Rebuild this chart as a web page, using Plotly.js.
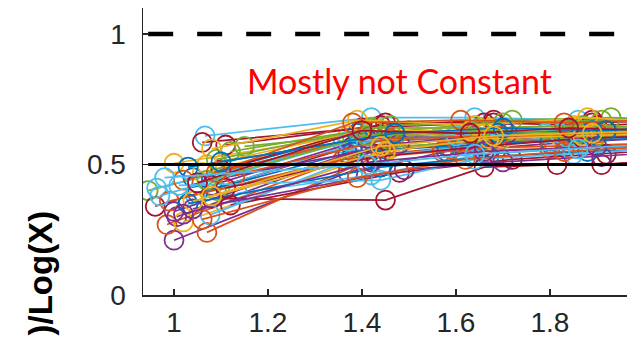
<!DOCTYPE html>
<html>
<head>
<meta charset="utf-8">
<script src="https://cdn.plot.ly/plotly-3.0.1.min.js"></script>
<style>html,body{margin:0;padding:0;background:#fff;}#chart{width:627px;height:348px;}</style>
</head>
<body>
<div id="chart"></div>
<script>
// MATLAB default colour order
const palette = ['#0072BD','#D95319','#EDB120','#7E2F8E','#77AC30','#4DBEEE','#A2142F'];

// one row per series: x values, y values, colour index
const seriesX = [
  [0.945,1.38,1.62,1.84,2.02],
  [1.00,1.37,1.58,1.80,2.00],
  [1.07,1.44,1.68,1.88,2.05],
  [1.066,1.42,1.64,1.86,2.03],
  [1.06,1.40,1.66,1.90,2.06],
  [1.00,1.37,1.60,1.82,2.01],
  [0.96,1.38,1.64,1.85,2.04],
  [0.985,1.36,1.59,1.81,2.00],
  [1.006,1.39,1.62,1.84,2.02],
  [1.02,1.46,1.70,1.91,2.07],
  [0.963,1.36,1.56,1.79,1.99],
  [1.045,1.40,1.65,1.87,2.04],
  [1.12,1.48,1.72,1.92,2.08],
  [1.135,1.42,1.66,1.86,2.03],
  [1.08,1.45,1.66,1.815,1.91,2.05],
  [1.11,1.44,1.68,1.89,2.05],
  [1.15,1.50,1.72,1.93,2.08],
  [1.077,1.38,1.62,1.84,2.02],
  [1.00,1.37,1.61,1.83,2.01],
  [1.04,1.39,1.63,1.85,2.03],
  [1.06,1.43,1.67,1.88,2.05],
  [1.08,1.41,1.64,1.86,2.04],
  [1.02,1.37,1.62,1.84,2.02],
  [1.09,1.47,1.69,1.90,2.06],
  [1.05,1.38,1.58,1.80,1.99],
  [1.10,1.45,1.68,1.89,2.05],
  [1.07,1.40,1.63,1.85,2.03],
  [1.12,1.46,1.70,1.91,2.07],
  [0.99,1.36,1.57,1.80,2.00],
  [1.03,1.44,1.67,1.88,2.04],
  [1.05,1.48,1.71,1.92,2.07],
  [0.97,1.37,1.60,1.82,2.01],
  [1.09,1.42,1.65,1.87,2.04],
  [1.13,1.46,1.69,1.90,2.06],
  [1.01,1.44,1.64,1.85,2.03],
  [1.04,1.49,1.70,1.91,2.07],
  [1.06,1.39,1.62,1.83,2.02],
  [1.11,1.43,1.66,1.87,2.04],
  [1.08,1.39,1.64,1.88,2.05],
  [1.03,1.47,1.69,1.89,2.06],
  [1.07,1.41,1.65,1.86,2.04],
  [1.04,1.45,1.67,1.87,2.05],
  [1.09,1.38,1.61,1.83,2.02],
  [1.02,1.42,1.66,1.90,2.06],
  [1.10,1.47,1.70,1.92,2.07],
  [1.05,1.40,1.63,1.84,2.03],
  [1.08,1.44,1.68,1.89,2.05],
  [0.98,1.41,1.64,1.86,2.04]
];
const seriesY = [
  [0.40,0.60,0.62,0.63,0.64],
  [0.21,0.47,0.55,0.58,0.60],
  [0.24,0.54,0.58,0.60,0.61],
  [0.61,0.68,0.68,0.67,0.68],
  [0.585,0.64,0.66,0.65,0.66],
  [0.505,0.61,0.62,0.61,0.63],
  [0.34,0.57,0.60,0.62,0.63],
  [0.27,0.52,0.56,0.57,0.58],
  [0.30,0.55,0.59,0.61,0.62],
  [0.28,0.56,0.60,0.62,0.63],
  [0.41,0.58,0.60,0.62,0.62],
  [0.383,0.59,0.62,0.63,0.64],
  [0.345,0.47,0.52,0.54,0.56],
  [0.39,0.46,0.54,0.56,0.58],
  [0.37,0.364,0.49,0.50,0.50,0.52],
  [0.575,0.65,0.67,0.66,0.67],
  [0.57,0.63,0.67,0.68,0.67],
  [0.307,0.52,0.57,0.60,0.61],
  [0.32,0.54,0.58,0.60,0.61],
  [0.45,0.62,0.63,0.64,0.64],
  [0.47,0.64,0.64,0.63,0.65],
  [0.42,0.60,0.61,0.62,0.63],
  [0.44,0.59,0.60,0.61,0.62],
  [0.40,0.57,0.59,0.61,0.62],
  [0.39,0.55,0.57,0.59,0.60],
  [0.48,0.66,0.66,0.67,0.66],
  [0.50,0.63,0.63,0.65,0.64],
  [0.55,0.65,0.66,0.67,0.66],
  [0.36,0.52,0.55,0.56,0.57],
  [0.35,0.49,0.53,0.55,0.56],
  [0.43,0.58,0.62,0.63,0.63],
  [0.38,0.59,0.61,0.62,0.63],
  [0.52,0.64,0.64,0.65,0.64],
  [0.46,0.60,0.61,0.62,0.62],
  [0.42,0.44,0.52,0.54,0.56],
  [0.33,0.48,0.51,0.53,0.55],
  [0.29,0.45,0.52,0.55,0.57],
  [0.41,0.53,0.57,0.60,0.61],
  [0.56,0.67,0.65,0.68,0.66],
  [0.49,0.62,0.62,0.63,0.64],
  [0.44,0.61,0.63,0.62,0.64],
  [0.36,0.55,0.60,0.61,0.62],
  [0.47,0.66,0.67,0.66,0.67],
  [0.31,0.51,0.55,0.57,0.58],
  [0.51,0.62,0.64,0.63,0.65],
  [0.43,0.63,0.62,0.64,0.63],
  [0.38,0.57,0.61,0.62,0.63],
  [0.45,0.50,0.54,0.56,0.58]
];
const seriesColor = [4,3,1,5,6,2,6,1,3,2,5,5,6,5,6,6,4,5,3,0,2,3,1,4,0,6,2,4,1,0,3,5,4,1,5,3,1,6,2,0,4,2,1,3,0,6,2,5];

// reference levels
const refX = [0.945, 2.1];
const levelConstant = 1;
const levelHalf = 0.5;

const xTicks = [1, 1.2, 1.4, 1.6, 1.8];
const xTickText = ['1', '1.2', '1.4', '1.6', '1.8'];
const yTicks = [0, 0.5, 1];
const yTickText = ['0', '0.5', '1'];

const traces = seriesX.map((xs, i) => ({
  x: xs, y: seriesY[i], type: 'scatter', mode: 'lines+markers',
  line: {color: palette[seriesColor[i]], width: 1.7},
  marker: {symbol: 'circle-open', size: 19, color: palette[seriesColor[i]], line: {width: 1.8}},
  hoverinfo: 'none', showlegend: false, cliponaxis: true
}));
traces.push({x: refX, y: [levelHalf, levelHalf], type: 'scatter', mode: 'lines',
  line: {color: '#000', width: 3}, showlegend: false, hoverinfo: 'none'});
traces.push({x: refX, y: [levelConstant, levelConstant], type: 'scatter', mode: 'lines',
  line: {color: '#000', width: 4.5, dash: '25px,24px'}, showlegend: false, hoverinfo: 'none'});

const axisFont = {family: 'Liberation Sans, Arial, sans-serif', size: 28, color: '#262626'};
const layout = {
  width: 627, height: 348,
  margin: {l: 143, r: 0, t: 8, b: 53, pad: 0},
  paper_bgcolor: '#fff', plot_bgcolor: '#fff',
  xaxis: {range: [0.934, 1.964], tickvals: xTicks, ticktext: xTickText, ticks: 'inside', ticklen: 6,
    tickwidth: 1.5, tickcolor: '#262626', showline: true, linecolor: '#262626', linewidth: 1.5,
    showgrid: false, zeroline: false, mirror: false, tickfont: axisFont, ticklabelstandoff: 2},
  yaxis: {range: [0, 1.1], tickvals: yTicks, ticktext: yTickText, ticks: 'inside', ticklen: 6,
    tickwidth: 1.5, tickcolor: '#262626', showline: true, linecolor: '#262626', linewidth: 1.5,
    showgrid: false, zeroline: false, mirror: false, tickfont: axisFont, ticklabelstandoff: 10},
  annotations: [
    {text: 'Mostly not Constant', xref: 'paper', yref: 'paper', x: (399-143)/484, y: (295-80)/287,
     xanchor: 'center', yanchor: 'middle', showarrow: false,
     font: {family: 'Lato, sans-serif', size: 34, color: '#FF0000'}},
    {text: '<b>)/Log(X)</b>', xref: 'paper', yref: 'paper', x: (40-143)/484, y: (295-210)/287,
     xanchor: 'center', yanchor: 'top', textangle: -90, showarrow: false, borderpad: 0,
     font: {family: 'Liberation Sans, Arial, sans-serif', size: 33, color: '#000'}}
  ]
};
Plotly.newPlot('chart', traces, layout, {staticPlot: true, displayModeBar: false});
</script>
</body>
</html>
